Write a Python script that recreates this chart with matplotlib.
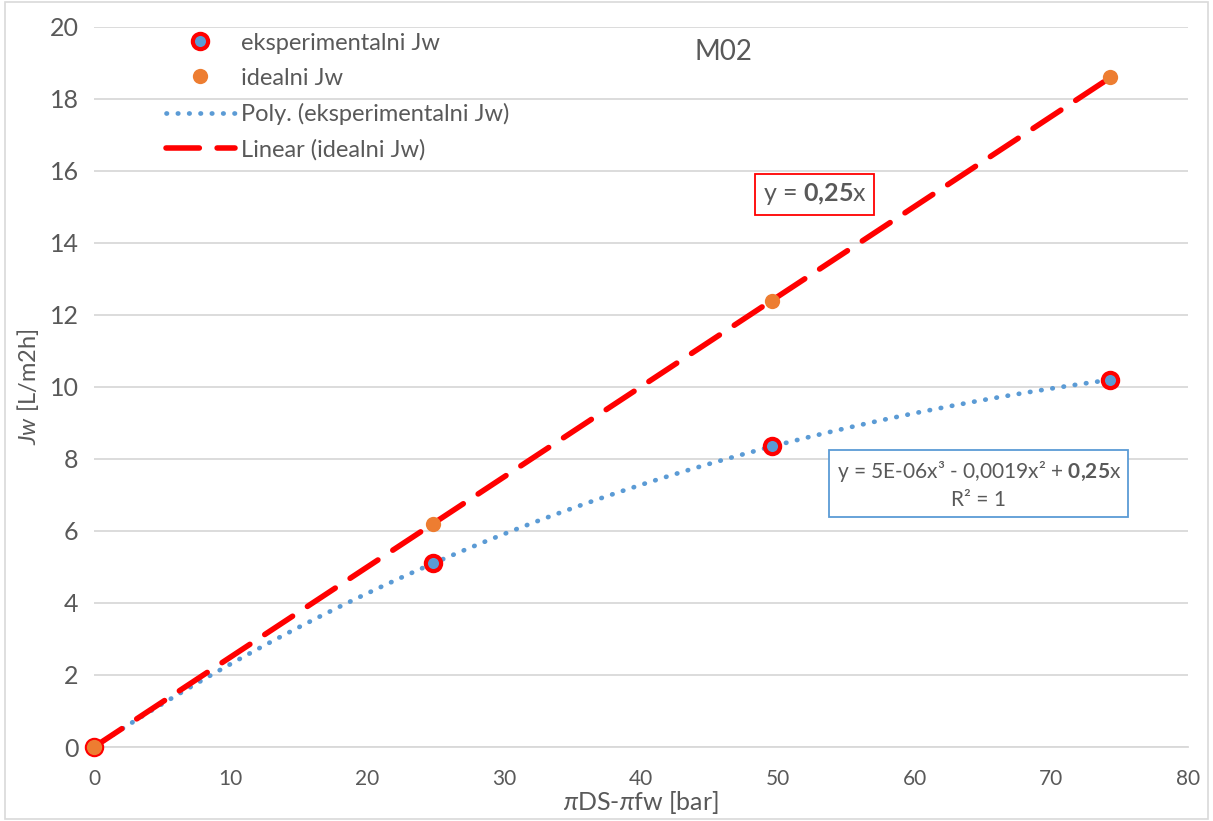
import numpy as np
import matplotlib
matplotlib.use("Agg")
import matplotlib.pyplot as plt
from matplotlib.patches import Rectangle

# data
dp = [0, 24.8, 49.6, 74.3]          # pi DS - pi fw [bar]
jw_eksp = [0, 5.1, 8.35, 10.2]      # eksperimentalni Jw
jw_ideal = [0, 6.2, 12.4, 18.6]     # idealni Jw

plt.rcParams['font.family'] = ['Lato', 'DejaVu Sans']
plt.rcParams['mathtext.fontset'] = 'custom'
plt.rcParams['mathtext.rm'] = 'Lato'
plt.rcParams['mathtext.it'] = 'Lato:italic'
plt.rcParams['mathtext.bf'] = 'Lato:bold'
grey = '#595959'

fig = plt.figure(figsize=(12.13, 8.21), dpi=100)
ax = fig.add_axes([94/1213, 1 - 747/821, 1094/1213, 720/821])

# trendlines (intercept fixed at 0, as in Excel)
x = np.array(dp)
A = np.vstack([x, x**2, x**3]).T
c_poly = np.linalg.lstsq(A, np.array(jw_eksp), rcond=None)[0]
c_lin = np.sum(x * np.array(jw_ideal)) / np.sum(x * x)
xx = np.linspace(0, max(dp), 300)

ax.plot(xx, c_poly[0]*xx + c_poly[1]*xx**2 + c_poly[2]*xx**3, color='#5B9BD5',
        lw=3.4, linestyle=(0, (0.1, 2.3)), dash_capstyle='round',
        label='Poly. (eksperimentalni Jw)', zorder=3)
ax.plot(xx, c_lin*xx, color='#FF0000', lw=4, linestyle=(0, (6, 3.2)),
        dash_capstyle='round', label='Linear (idealni Jw)', zorder=3)

ax.plot(dp, jw_eksp, 'o', ms=11, mfc='#5B9BD5', mec='#FF0000', mew=3,
        label='eksperimentalni Jw', zorder=4, clip_on=False)
ax.plot(dp, jw_ideal, 'o', ms=11, mfc='#ED7D31', mec='#ED7D31', mew=0,
        label='idealni Jw', zorder=5, clip_on=False)

ax.set_xlim(0, 80)
ax.set_ylim(0, 20)
ax.set_xticks(range(0, 81, 10))
ax.set_yticks(range(0, 21, 2))
ax.grid(axis='y', color='#D9D9D9', lw=1.3)
ax.set_axisbelow(True)
for s in ['top', 'right', 'left']:
    ax.spines[s].set_visible(False)
ax.spines['bottom'].set_color('#D9D9D9')
ax.spines['bottom'].set_linewidth(1.3)
ax.tick_params(length=0, colors=grey)
ax.tick_params(axis='x', pad=16, labelsize=15)
ax.tick_params(axis='y', pad=11, labelsize=18)

ax.set_xlabel(r'$\mathit{\pi}$DS-$\mathit{\pi}$fw [bar]', fontsize=18, color=grey, labelpad=0)
ax.set_ylabel(r'$\mathit{Jw}$ [L/m2h]', fontsize=17, color=grey, labelpad=6)

ax.text(0.575, 0.965, 'M02', transform=ax.transAxes, fontsize=20, color=grey,
        ha='center', va='center')

h, l = ax.get_legend_handles_labels()
order = [2, 3, 0, 1]
ax.legend([h[i] for i in order], [l[i] for i in order], loc='upper left',
          bbox_to_anchor=(0.053, 1.012), frameon=False, fontsize=17,
          labelcolor=grey, handlelength=2.9, handletextpad=0.25,
          labelspacing=0.6, borderaxespad=0.2)

ax.text(52.7, 15.35, r'y = $\mathbf{0{,}25}$x', fontsize=18, color=grey,
        ha='center', va='center',
        bbox=dict(boxstyle='square,pad=0.3', fc='white', ec='#FF0000', lw=1.3))
ax.text(64.7, 7.3, 'y = 5E-06x³ - 0,0019x² + $\\mathbf{0{,}25}$x\nR² = 1',
        fontsize=15, color=grey, ha='center', va='center', linespacing=1.35,
        bbox=dict(boxstyle='square,pad=0.35', fc='white', ec='#5B9BD5', lw=1.3))

fig.patches.append(Rectangle((0.004, 0.003), 0.992, 0.994, transform=fig.transFigure,
                             fill=False, ec='#D9D9D9', lw=1.2))

fig.savefig('out.png', dpi=100)
